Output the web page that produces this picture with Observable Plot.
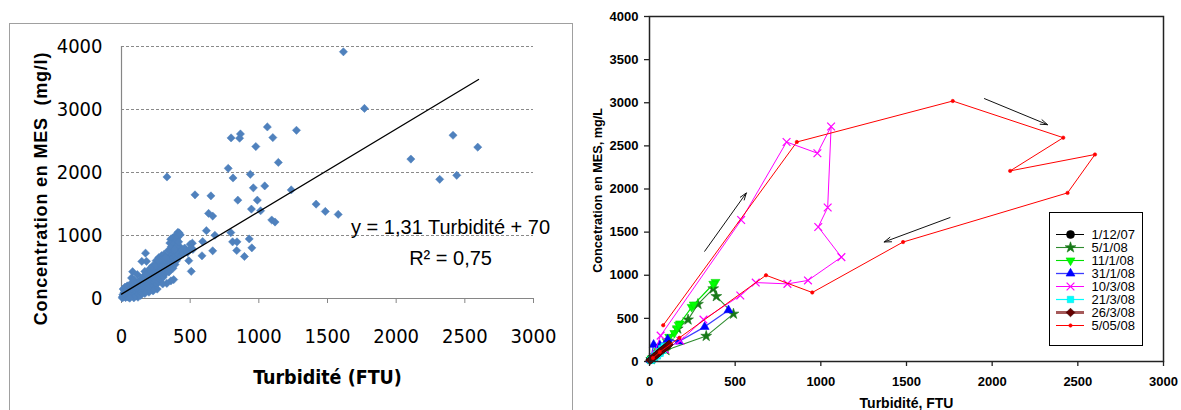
<!DOCTYPE html>
<html><head><meta charset="utf-8">
<script src="https://cdn.jsdelivr.net/npm/d3@7"></script>
<script src="https://cdn.jsdelivr.net/npm/@observablehq/plot@0.6"></script>
<style>
html,body{margin:0;padding:0;background:#fff;overflow:hidden;}
#wrap{position:relative;width:1181px;height:410px;overflow:hidden;background:#fff;}
#left,#right,#legend,#lbox{position:absolute;}
#left{left:0;top:0;}
#right{left:590px;top:0;}
#lbox{left:9px;top:23px;width:562px;height:400px;border:1px solid #a0a0a0;pointer-events:none;}
#legend{left:1049px;top:212px;width:92px;height:132px;border:1px solid #000;background:#fff;}
svg{display:block;}
</style></head>
<body><div id="wrap"><div id="left"></div><div id="lbox"></div><div id="right"></div><div id="legend"></div></div>
<script>
// ================= LEFT PANEL DATA =================
const leftXTicks = [0, 500, 1000, 1500, 2000, 2500, 3000];
const leftYTicks = [0, 1000, 2000, 3000, 4000];
const leftGrid = [1000, 2000, 3000, 4000];
const leftXTitle = "Turbidité (FTU)";
const leftYTitle = "Concentration en MES  (mg/l)";
const eqLine1 = "y = 1,31 Turbidité + 70";
const eqLine2 = "R² = 0,75";
const regSlope = 1.31;
const regIntercept = 70;
const regRange = [0, 2600];

// measured points (turbidity FTU, MES mg/l)
const scatterPoints = [
[1616,3916],[1769,3017],[1062,2723],[1274,2670],[866,2612],[860,2544],[798,2549],[1102,2554],[978,2412],[1142,2160],
[777,2066],[938,1971],[812,1913],[1043,1787],[960,1756],[1236,1724],[535,1645],[651,1629],[847,1561],[989,1561],
[1417,1498],[946,1419],[1484,1382],[1013,1393],[1578,1335],[1094,1246],[1118,1214],[634,1351],[664,1309],[331,1929],
[2594,2402],[2414,2591],[2107,2213],[2317,1892],[2441,1955],[618,1077],[796,1046],[680,1004],[930,946],[809,899],
[841,899],[949,804],[839,762],[664,757],[895,667],[586,678],[411,1051],[516,878],[591,904],[358,941],
[376,836],[438,752],[508,431],[175,720],[148,589],[81,426],[73,326],[395,960],[370,900],[405,880],
[5,10],[8,30],[10,60],[12,150],[15,20],[18,90],[20,40],[22,120],[25,180],[28,70],
[30,15],[32,100],[35,50],[38,140],[40,30],[42,200],[45,80],[48,110],[50,20],[52,160],
[55,60],[58,130],[60,90],[62,40],[65,210],[68,110],[70,70],[72,150],[75,250],[78,100],
[80,50],[82,130],[85,180],[88,80],[90,300],[92,120],[95,150],[98,60],[100,200],[102,90],
[105,240],[108,130],[110,170],[112,100],[115,380],[118,140],[120,210],[122,60],[125,160],[128,260],
[130,120],[132,190],[135,90],[138,230],[140,150],[142,310],[145,180],[148,110],[150,220],[152,270],
[155,140],[158,200],[160,350],[162,170],[165,250],[168,120],[170,430],[172,210],[175,280],[178,160],
[180,240],[182,590],[185,190],[188,320],[190,140],[192,260],[195,380],[198,220],[200,170],[202,300],
[205,460],[208,240],[210,200],[212,350],[215,270],[218,180],[220,420],[222,310],[225,230],[228,520],
[230,280],[232,350],[235,200],[238,400],[240,300],[242,250],[245,450],[248,330],[250,280],[252,600],
[255,370],[258,230],[260,420],[262,320],[265,500],[268,270],[270,380],[272,650],[275,340],[278,440],
[280,300],[282,560],[285,400],[288,330],[290,470],[292,680],[295,370],[298,520],[300,420],[305,340],
[308,600],[310,450],[315,390],[318,520],[320,470],[325,420],[328,580],[330,500],[335,460],[338,640],
[340,540],[345,420],[348,580],[350,500],[355,620],[358,460],[360,560],[365,700],[368,520],[370,600],
[375,480],[378,650],[380,560],[385,740],[388,620],[390,540],[395,680],[400,600],[405,760],[410,640],
[415,700],[420,1040],[425,820],[430,680],[440,770],[450,710],[460,800],[470,760],[480,730],[490,600],
[500,860],[505,800],[520,780],[380,300],[360,280],[330,240],[300,230],[260,150],[230,120],[200,100],
[170,80],[140,50],[110,40],[120,20],[90,10],[60,5],
[340,760],[352,880],[362,820],[372,960],[383,870],[392,1000],[402,930],[412,980],[398,820],[386,780],
[300,640],[310,700],[320,660],[260,560],[270,600],[240,520],[210,480],[200,420],[180,380],[160,300],
[140,260],[120,250],[100,230],[80,200],[60,170],[40,150],[30,120],[20,80],[428,1010],[416,900]
];

// ================= RIGHT PANEL DATA =================
const rightXTicks = [0, 500, 1000, 1500, 2000, 2500, 3000];
const rightYTicks = [0, 500, 1000, 1500, 2000, 2500, 3000, 3500, 4000];
const rightXTitle = "Turbidité, FTU";
const rightYTitle = "Concetration en MES, mg/L";
const seriesNames = ["1/12/07", "5/1/08", "11/1/08", "31/1/08", "10/3/08", "21/3/08", "26/3/08", "5/05/08"];

const s_1_12_07 = [[3,18],[8,30],[14,42],[20,35],[10,22]];
const s_5_1_08 = [[10,25],[50,110],[110,240],[165,380],[225,485],[283,665],[372,845],[390,755],[490,552],[331,295],[96,130],[30,50]];
const s_11_1_08 = [[12,35],[50,120],[100,235],[145,330],[160,385],[178,440],[246,632],[385,922],[372,900],[258,660],[170,425],[115,285],[65,170],[25,60]];
const s_31_1_08 = [[6,20],[24,195],[60,190],[106,255],[172,232],[322,402],[461,595]];
const s_10_3_08 = [[20,55],[65,300],[535,1640],[800,2545],[980,2415],[1060,2725],[1040,1785],[985,1560],[1120,1210],[925,940],[805,900],[620,915],[530,765],[315,486],[180,240],[90,140],[40,80]];
const s_21_3_08 = [[5,12],[15,30],[28,55],[42,85],[58,115],[72,150],[85,175],[78,130],[62,95],[46,65],[30,40],[15,18]];
const s_26_3_08 = [[3,15],[10,26],[18,38],[26,52],[34,66],[42,80],[50,94],[58,108],[66,120],[75,134],[84,148],[92,162],[100,174],[108,186],[114,198]];
const s_5_05_08 = [[80,420],[860,2545],[1770,3020],[2415,2595],[2105,2210],[2600,2400],[2440,1955],[1480,1385],[950,800],[680,1000],[175,275],[60,110],[20,40]];
const seriesValues = [s_1_12_07, s_5_1_08, s_11_1_08, s_31_1_08, s_10_3_08, s_21_3_08, s_26_3_08, s_5_05_08];

// hysteresis direction arrows (data coordinates)
const arrowX1 = [322, 1955, 1754];
const arrowY1 = [1278, 3048, 1669];
const arrowX2 = [565, 2323, 1370];
const arrowY2 = [1954, 2746, 1386];

// ================= STYLES =================
const triangleDown = {
  draw(ctx, size) {
    const y = -Math.sqrt(size / (Math.sqrt(3) * 3));
    ctx.moveTo(0, -y * 2);
    ctx.lineTo(-Math.sqrt(3) * y, y);
    ctx.lineTo(Math.sqrt(3) * y, y);
    ctx.closePath();
  }
};
const seriesStyle = {
  "1/12/07": {line: "#000000", lw: 1, symbol: "circle", r: 4, fill: "#000000", stroke: "#000000"},
  "5/1/08": {line: "#2E8B2E", lw: 1.1, symbol: "star", r: 3.4, fill: "#177817", stroke: "#177817"},
  "11/1/08": {line: "#00E000", lw: 1.1, symbol: triangleDown, r: 3.3, fill: "#00FF00", stroke: "#00DD00"},
  "31/1/08": {line: "#3C3CFF", lw: 1.3, symbol: "triangle", r: 3.3, fill: "#0000FF", stroke: "#0000FF"},
  "10/3/08": {line: "#FF00FF", lw: 1, symbol: "times", r: 3.6, fill: "none", stroke: "#FF00FF", sw: 1.2},
  "21/3/08": {line: "#00FFFF", lw: 1.2, symbol: "square", r: 3.6, fill: "#00FFFF", stroke: "#00E5E5"},
  "26/3/08": {line: "#A65A5A", lw: 3, symbol: "diamond2", r: 3.9, fill: "#660000", stroke: "#330000"},
  "5/05/08": {line: "#FF0000", lw: 1, symbol: "circle", r: 1.7, fill: "#FF0000", stroke: "#FF0000"}
};
const narrow = "'Liberation Sans Narrow', 'Arial Narrow', 'DejaVu Sans Condensed', sans-serif";
const arial = "'Liberation Sans', Arial, Helvetica, sans-serif";
const fmt = d => String(d);

// ================= LEFT PLOT =================
const scatter = scatterPoints.map(([x, y]) => ({x, y}));
const reg = regRange.map(x => ({x, y: regSlope * x + regIntercept}));
const eqPos = {x: 2396, y1: 1127, y2: 635};

const leftSvg = Plot.plot({
  width: 580, height: 410,
  marginLeft: 121, marginRight: 47, marginTop: 46, marginBottom: 112,
  x: {domain: [0, 3000]},
  y: {domain: [0, 4000]},
  style: {fontFamily: narrow, fontSize: "20px", color: "#000", background: "transparent", overflow: "visible"},
  marks: [
    Plot.ruleY(leftGrid, {stroke: "#8a8a8a", strokeDasharray: "3,2", strokeWidth: 1}),
    Plot.ruleX([0], {stroke: "#868686", strokeWidth: 1.2}),
    Plot.ruleY([0], {stroke: "#868686", strokeWidth: 1.2}),
    Plot.axisX({ticks: leftXTicks, tickSize: 5, tickPadding: 25, tickFormat: fmt, label: null, stroke: "#868686", fill: "#000"}),
    Plot.axisY({ticks: leftYTicks, tickSize: 0, tickPadding: 19, tickFormat: fmt, label: null, fill: "#000"}),
    Plot.dot(scatter, {x: "x", y: "y", symbol: "diamond2", r: 3.7, fill: "#4F81BD", stroke: "#4F81BD", strokeWidth: 0.5}),
    Plot.line(reg, {x: "x", y: "y", stroke: "#000", strokeWidth: 1.3}),
    Plot.text([eqLine1], {x: () => eqPos.x, y: () => eqPos.y1, text: d => d, fontFamily: arial, fontSize: 20, fill: "#000"}),
    Plot.text([eqLine2], {x: () => eqPos.x, y: () => eqPos.y2, text: d => d, fontFamily: arial, fontSize: 20, fill: "#000"}),
    Plot.text([leftXTitle], {frameAnchor: "bottom", dy: 79, text: d => d, textAnchor: "middle", lineAnchor: "middle", fontWeight: "bold", fontSize: 19.5, fill: "#000"}),
    Plot.text([leftYTitle], {frameAnchor: "left", dx: -80, dy: 16, rotate: -90, text: d => d, textAnchor: "middle", lineAnchor: "middle", fontFamily: arial, fontWeight: "bold", fontSize: 18, fill: "#000"})
  ]
});
document.getElementById("left").appendChild(leftSvg);
d3.select(leftSvg).selectAll("text").filter(function() { return this.textContent === leftYTitle; })
  .style("letter-spacing", "0.8px");

// ================= RIGHT PLOT =================
const arrows = arrowX1.map((x1, i) => ({x1, y1: arrowY1[i], x2: arrowX2[i], y2: arrowY2[i]}));
const seriesMarks = seriesNames.flatMap((name, i) => {
  const st = seriesStyle[name];
  const pts = seriesValues[i];
  return [
    Plot.line(pts, {x: d => d[0], y: d => d[1], stroke: st.line, strokeWidth: st.lw}),
    Plot.dot(pts, {x: d => d[0], y: d => d[1], symbol: st.symbol, r: st.r, fill: st.fill, stroke: st.stroke, strokeWidth: st.sw || 0.6})
  ];
});

const rightSvg = Plot.plot({
  width: 591, height: 410,
  marginLeft: 59, marginRight: 18, marginTop: 16, marginBottom: 49,
  x: {domain: [0, 3000]},
  y: {domain: [0, 4000]},
  style: {fontFamily: arial, fontSize: "13px", fontWeight: "bold", color: "#000", background: "transparent", overflow: "visible"},
  marks: [
    Plot.axisX({ticks: rightXTicks, tickSize: 5, tickPadding: 10, tickFormat: fmt, label: null, stroke: "#222", strokeWidth: 1.3}),
    Plot.axisY({ticks: rightYTicks, tickSize: 5, tickPadding: 6, tickFormat: fmt, label: null, stroke: "#222", strokeWidth: 1.3}),
    ...seriesMarks,
    Plot.arrow(arrows, {x1: "x1", y1: "y1", x2: "x2", y2: "y2", stroke: "#111", strokeWidth: 1, headLength: 11, headAngle: 38}),
    Plot.frame({stroke: "#222", strokeWidth: 1.5}),
    Plot.text([rightXTitle], {frameAnchor: "bottom", dy: 42, text: d => d, textAnchor: "middle", lineAnchor: "middle", fontSize: 14, fontWeight: "bold", fill: "#000"}),
    Plot.text([rightYTitle], {frameAnchor: "left", dx: -51.5, dy: 1.4, rotate: -90, text: d => d, textAnchor: "middle", lineAnchor: "middle", fontSize: 12.7, fontWeight: "bold", fill: "#000"})
  ]
});
document.getElementById("right").appendChild(rightSvg);

// ================= LEGEND =================
const legendMarks = seriesNames.flatMap(name => {
  const st = seriesStyle[name];
  return [
    Plot.ruleY([name], {y: d => d, x1: () => 0, x2: () => 1, stroke: st.line, strokeWidth: st.lw}),
    Plot.dot([name], {y: d => d, x: () => 0.5, symbol: st.symbol, r: st.r, fill: st.fill, stroke: st.stroke, strokeWidth: st.sw || 0.6})
  ];
});
const legendSvg = Plot.plot({
  width: 92, height: 132, margin: 0,
  x: {domain: [0, 1], range: [6, 34], axis: null},
  y: {type: "point", domain: seriesNames, range: [12.7, 120.3], axis: null},
  style: {fontFamily: arial, fontSize: "13px", color: "#000", background: "transparent", overflow: "visible"},
  marks: [
    ...legendMarks,
    Plot.text(seriesNames, {y: d => d, x: () => 1, dx: 7, text: d => d, textAnchor: "start", fill: "#000"})
  ]
});
document.getElementById("legend").appendChild(legendSvg);
</script>
</body></html>
